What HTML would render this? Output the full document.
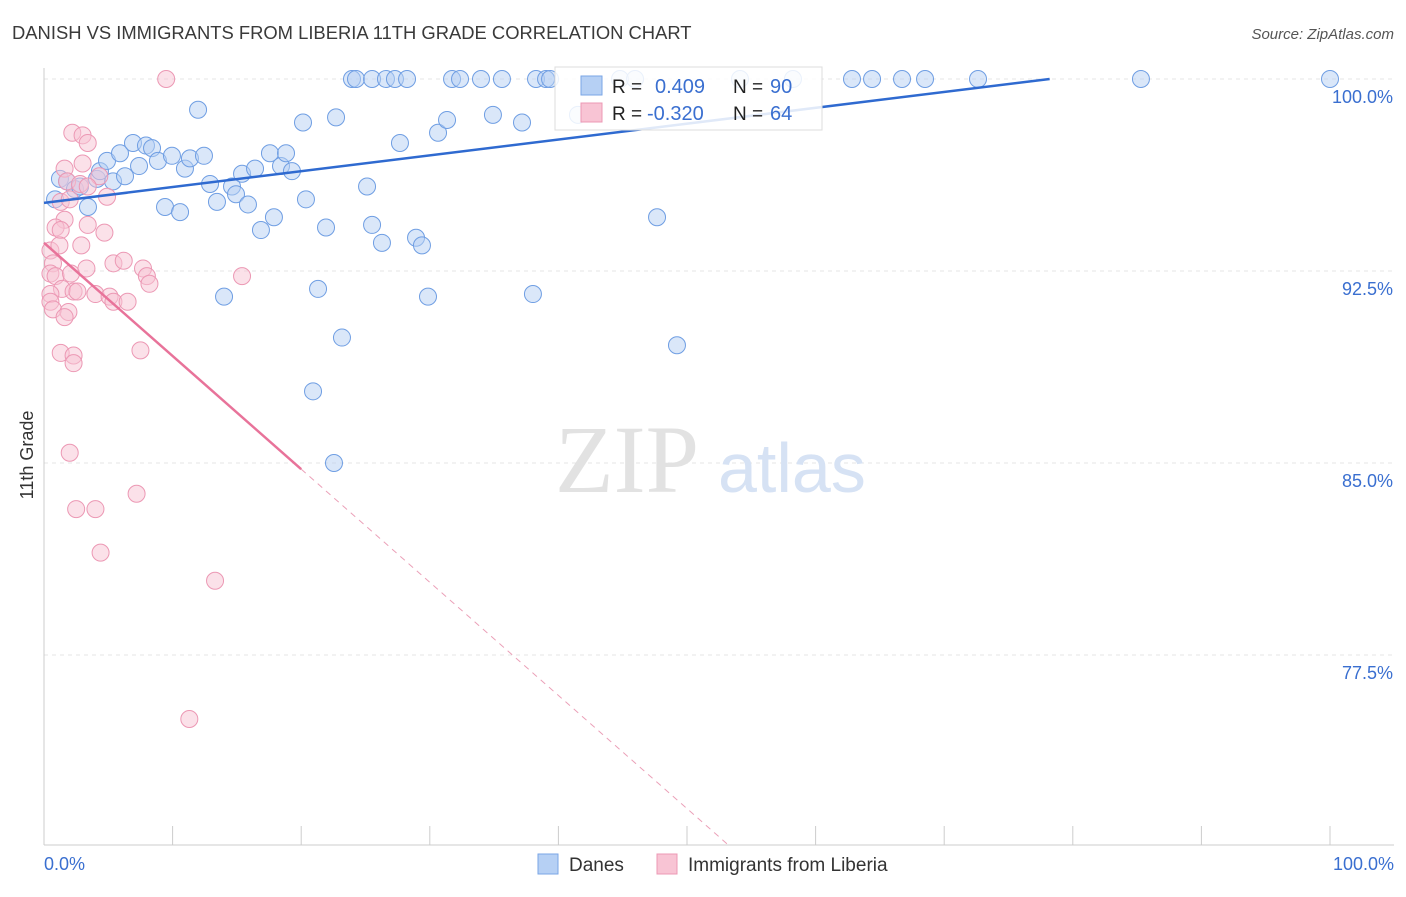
<!DOCTYPE html>
<html><head><meta charset="utf-8"><style>
body{margin:0;background:#fff;font-family:"Liberation Sans",sans-serif}
</style></head><body>
<svg id="chart" width="1406" height="892" xmlns="http://www.w3.org/2000/svg">
<text x="12" y="39" font-size="18.4" fill="#3a3a3a">DANISH VS IMMIGRANTS FROM LIBERIA 11TH GRADE CORRELATION CHART</text>
<text x="1394" y="39" font-size="15" fill="#555" text-anchor="end" font-style="italic">Source: ZipAtlas.com</text>
<text x="0" y="0" transform="translate(33,455) rotate(-90)" font-size="18" fill="#333" text-anchor="middle">11th Grade</text>
<g id="grid"></g>
<g><text x="555" y="492" font-size="96" fill="#e2e2e2" font-family="Liberation Serif,serif">ZIP</text><text x="718" y="492" font-size="70" fill="#d6e2f4">atlas</text></g>
<g id="pts"></g>
<g id="lines"></g>
<g>
<rect x="555" y="67" width="267" height="63" fill="#fff" fill-opacity="0.85" stroke="#ddd"/>
<rect x="581" y="76" width="21" height="19" fill="#b6d0f4" stroke="#7aa6e6"/>
<rect x="581" y="103" width="21" height="19" fill="#f8c4d4" stroke="#ec98b4"/>
<text x="612" y="93" font-size="19" fill="#222">R =</text><text x="655" y="93" font-size="20" fill="#3a6fd0">0.409</text>
<text x="733" y="93" font-size="19" fill="#222">N =</text><text x="770" y="93" font-size="20" fill="#3a6fd0">90</text>
<text x="612" y="120" font-size="19" fill="#222">R =</text><text x="647" y="120" font-size="20" fill="#3a6fd0">-0.320</text>
<text x="733" y="120" font-size="19" fill="#222">N =</text><text x="770" y="120" font-size="20" fill="#3a6fd0">64</text>
</g>
<g>
<rect x="538" y="854" width="20" height="20" fill="#b6d0f4" stroke="#7aa6e6"/>
<text x="569" y="871" font-size="19" fill="#333">Danes</text>
<rect x="657" y="854" width="20" height="20" fill="#f8c4d4" stroke="#ec98b4"/>
<text x="688" y="871" font-size="19" fill="#333">Immigrants from Liberia</text>
</g>
</svg>
<script>
const yTicks=[100,92.5,85,77.5];
const yTickLabels=["100.0%","92.5%","85.0%","77.5%"];
const xTickLabels=["0.0%","100.0%"];
const danesX=[0.86,1.24,1.79,2.41,2.80,3.42,4.12,4.35,4.90,5.37,5.91,6.30,6.92,7.39,7.93,8.40,8.86,9.95,10.96,11.35,11.98,12.44,9.41,10.58,12.91,13.45,14.00,14.62,14.93,15.40,15.86,16.41,16.87,17.57,17.88,18.43,18.82,19.28,20.14,20.37,21.31,21.93,20.92,22.55,22.71,23.17,23.95,24.26,25.12,25.51,25.51,26.28,26.59,27.29,27.68,28.23,28.93,29.39,29.86,30.64,31.34,31.73,32.35,33.98,34.91,35.61,37.17,38.02,38.26,39.04,39.35,41.52,44.79,45.96,47.67,49.22,54.12,58.24,62.83,64.39,66.72,68.51,72.63,85.30,100];
const danesY=[95.3,96.1,96.0,95.7,95.8,95.0,96.1,96.4,96.8,96.0,97.1,96.2,97.5,96.6,97.4,97.3,96.8,97.0,96.5,96.9,98.8,97.0,95.0,94.8,95.9,95.2,91.5,95.8,95.5,96.3,95.1,96.5,94.1,97.1,94.6,96.6,97.1,96.4,98.3,95.3,91.8,94.2,87.8,85.0,98.5,89.9,100,100,95.8,100,94.3,93.6,100,100,97.5,100,93.8,93.5,91.5,97.9,98.4,100,100,100,98.6,100,98.3,91.6,100,100,100,98.6,100,100,94.6,89.6,100,100,100,100,100,100,100,100,100];
const libX=[9.5,2.2,3.0,3.4,1.6,3.0,4.3,1.8,2.8,3.4,4.9,1.3,2.0,1.6,0.9,1.3,3.4,4.7,0.5,1.2,2.9,0.7,0.5,0.9,2.1,3.3,5.4,6.2,7.7,8.0,8.2,15.4,1.4,0.5,2.3,2.6,4.0,5.1,5.4,6.5,0.5,0.7,1.9,1.6,1.3,2.3,2.3,7.5,2.0,7.2,2.5,4.0,4.4,13.3,11.3];
const libY=[100,97.9,97.8,97.5,96.5,96.7,96.2,96.0,95.9,95.8,95.4,95.2,95.3,94.5,94.2,94.1,94.3,94.0,93.3,93.5,93.5,92.8,92.4,92.3,92.4,92.6,92.8,92.9,92.6,92.3,92.0,92.3,91.8,91.6,91.7,91.7,91.6,91.5,91.3,91.3,91.3,91.0,90.9,90.7,89.3,89.2,88.9,89.4,85.4,83.8,83.2,83.2,81.5,80.4,75.0];
const blueLine=[95.16,100,78.2];
const pinkLine=[93.6,-0.442];
const NS="http://www.w3.org/2000/svg";
const X0=44,X1=1330,Y100=79,PX=25.6,YB=845;
const xs=v=>X0+(X1-X0)*v/100, ys=v=>Y100+(100-v)*PX;
function mk(t,a,p){const e=document.createElementNS(NS,t);for(const k in a)e.setAttribute(k,a[k]);p.appendChild(e);return e;}
const grid=document.getElementById('grid');
yTicks.forEach((t,i)=>{
 const l=mk('line',{x1:X0,x2:1394,y1:ys(t),y2:ys(t),stroke:'#e4e4e4','stroke-dasharray':'4,4'},grid);
 
 
 const tx=mk('text',{x:1393,y:ys(t)+24,'font-size':18,fill:'#3a6fd0','text-anchor':'end'},grid);tx.textContent=yTickLabels[i];
 
 
});
const ax=mk('line',{x1:X0,x2:X0,y1:68,y2:YB,stroke:'#ccc'},grid);


const bx=mk('line',{x1:X0,x2:1394,y1:YB,y2:YB,stroke:'#ccc'},grid);


for(let i=0;i<=10;i++){const t=mk('line',{x1:xs(i*10),x2:xs(i*10),y1:826,y2:845,stroke:'#ccc'},grid);
 
 }
[[0,'start',44],[1,'end',1394]].forEach(([i,a,x])=>{const t=mk('text',{x:x,y:870,'font-size':18,fill:'#3a6fd0','text-anchor':a},grid);t.textContent=xTickLabels[i];
 
 });
const pts=document.getElementById('pts');
danesX.forEach((x,i)=>{const c=mk('circle',{cx:xs(x),cy:ys(danesY[i]),r:8.5,fill:'#b6d0f4','fill-opacity':0.5,stroke:'#6f9ee3','stroke-width':1},pts);
 
 });
libX.forEach((x,i)=>{const c=mk('circle',{cx:xs(x),cy:ys(libY[i]),r:8.5,fill:'#f8c4d4','fill-opacity':0.5,stroke:'#ec98b4','stroke-width':1},pts);
 
 });
const lines=document.getElementById('lines');
const bl=mk('polyline',{points:`${xs(0)},${ys(blueLine[0])} ${xs(blueLine[2])},${ys(blueLine[1])}`,stroke:'#2f6ad0','stroke-width':2.5,fill:'none'},lines);


const py=x=>pinkLine[0]+pinkLine[1]*x;
const pl=mk('line',{x1:xs(0),y1:ys(py(0)),x2:xs(20),y2:ys(py(20)),stroke:'#e8739a','stroke-width':2.5},lines);


const xEnd=(pinkLine[0]-(100-(YB-Y100)/PX))/-pinkLine[1];
const pd=mk('line',{x1:xs(20),y1:ys(py(20)),x2:xs(xEnd),y2:ys(py(xEnd)),stroke:'#eba0b8','stroke-width':1,'stroke-dasharray':'6,5'},lines);


</script>
</body></html>
